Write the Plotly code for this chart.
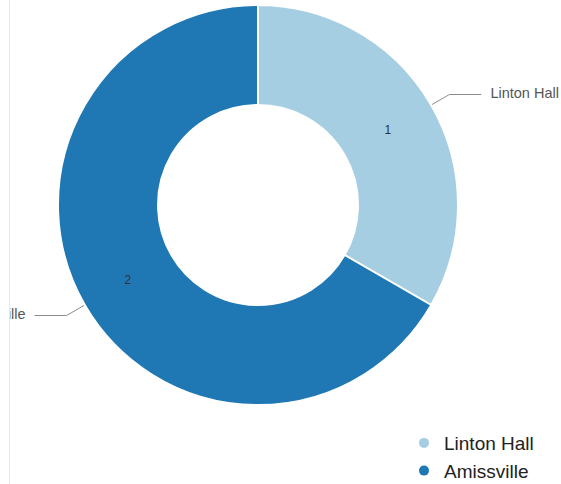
import math
import plotly.graph_objects as go

# ---- data ----
labels = ["Linton Hall", "Amissville"]
values = [1, 2]
colors = ["#a6cee3", "#1f78b4"]

# ---- layout constants (pixels) ----
W, H = 561, 484
CX, CY, R = 258, 205, 200
HOLE = 0.5
LEAD_OUT = 21
LEAD_H = 32
LABEL_GAP = 9

fig = go.Figure()

fig.add_trace(go.Pie(
    labels=labels, values=values, sort=False, direction="clockwise", rotation=0,
    hole=HOLE,
    marker=dict(colors=colors, line=dict(color="white", width=2)),
    textinfo="value", textposition="inside", insidetextorientation="horizontal",
    insidetextfont=dict(color="#333333", size=12, family="Liberation Sans, Arial"),
    showlegend=False, hoverinfo="label+value",
    domain=dict(x=[(CX - R) / W, (CX + R) / W], y=[1 - (CY + R) / H, 1 - (CY - R) / H]),
))

# leader lines + outer labels, computed from the values
total = sum(values)
cum = 0
for lab, v in zip(labels, values):
    mid = (cum + v / 2) / total * 2 * math.pi
    cum += v
    s, c = math.sin(mid), -math.cos(mid)
    x1, y1 = CX + R * s, CY + R * c
    x2, y2 = CX + (R + LEAD_OUT) * s, CY + (R + LEAD_OUT) * c
    side = 1 if s >= 0 else -1
    x3 = x2 + side * LEAD_H
    fig.add_trace(go.Scatter(
        x=[x1, x2, x3], y=[y1, y2, y2], mode="lines",
        line=dict(color="#8c8c8c", width=1), showlegend=False, hoverinfo="skip",
        xaxis="x", yaxis="y"))
    fig.add_trace(go.Scatter(
        x=[x3 + side * LABEL_GAP], y=[y2], mode="text", text=[lab],
        textposition="middle right" if side > 0 else "middle left",
        textfont=dict(color="#555555", size=14.5, family="Liberation Sans, Arial"),
        showlegend=False, hoverinfo="skip", cliponaxis=True))

# legend entries (circle symbols)
for lab, col in zip(labels, colors):
    fig.add_trace(go.Scatter(
        x=[None], y=[None], mode="markers", name=lab,
        marker=dict(symbol="circle", size=10, color=col)))

fig.update_layout(
    width=W, height=H,
    margin=dict(l=0, r=0, t=0, b=0, autoexpand=False),
    paper_bgcolor="white", plot_bgcolor="rgba(0,0,0,0)",
    xaxis=dict(domain=[10 / W, 1], range=[10, W], visible=True, showgrid=False,
               zeroline=False, showticklabels=False, showline=False, fixedrange=True),
    yaxis=dict(domain=[0, 1], range=[H, 0], showgrid=False, zeroline=False,
               showticklabels=False, showline=True, linecolor="#e6e6ea", linewidth=1,
               fixedrange=True),
    legend=dict(x=404 / W, xanchor="left", y=-0.0125, yanchor="bottom",
                font=dict(size=19, color="#222222", family="Liberation Sans, Arial"),
                bgcolor="rgba(0,0,0,0)"),
    font=dict(family="Liberation Sans, Arial"),
)

fig.write_html("out.html", config={"displayModeBar": False},
               post_script="document.body.style.margin='0';")
